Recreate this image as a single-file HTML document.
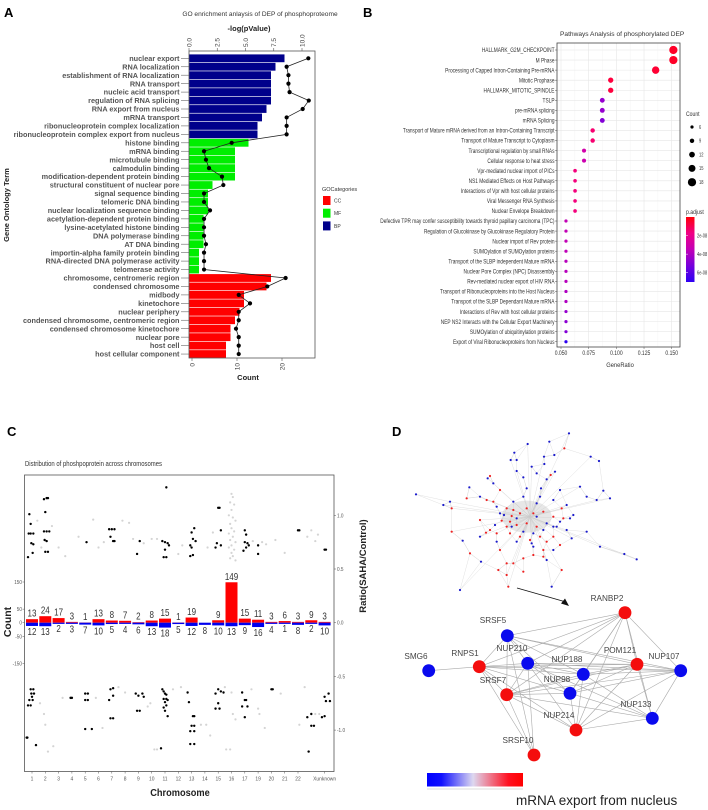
<!DOCTYPE html>
<html><head><meta charset="utf-8">
<style>
html,body{margin:0;padding:0;background:#fff;}
svg{display:block;font-family:"Liberation Sans",sans-serif;}
</style></head>
<body>
<svg id="fig" width="708" height="810" viewBox="0 0 708 810" xmlns="http://www.w3.org/2000/svg">
<rect width="708" height="810" fill="#fff"/>
<text x="4" y="17" font-size="13" font-weight="bold">A</text>
<text x="363" y="17" font-size="13" font-weight="bold">B</text>
<text x="7" y="436" font-size="13" font-weight="bold">C</text>
<text x="392" y="436" font-size="13" font-weight="bold">D</text>
<g id="pa"></g>
<g id="pb"></g>
<g id="pc"></g>
<g id="pd"></g>
</svg>
<script>
// ---------- Panel A data ----------
const goTerms = ["nuclear export","RNA localization","establishment of RNA localization","RNA transport","nucleic acid transport","regulation of RNA splicing","RNA export from nucleus","mRNA transport","ribonucleoprotein complex localization","ribonucleoprotein complex export from nucleus","histone binding","mRNA binding","microtubule binding","calmodulin binding","modification-dependent protein binding","structural constituent of nuclear pore","signal sequence binding","telomeric DNA binding","nuclear localization sequence binding","acetylation-dependent protein binding","lysine-acetylated histone binding","DNA polymerase binding","AT DNA binding","importin-alpha family protein binding","RNA-directed DNA polymerase activity","telomerase activity","chromosome, centromeric region","condensed chromosome","midbody","kinetochore","nuclear periphery","condensed chromosome, centromeric region","condensed chromosome kinetochore","nuclear pore","host cell","host cellular component"];
const goCat = ["BP","BP","BP","BP","BP","BP","BP","BP","BP","BP","MF","MF","MF","MF","MF","MF","MF","MF","MF","MF","MF","MF","MF","MF","MF","MF","CC","CC","CC","CC","CC","CC","CC","CC","CC","CC"];
const goCount = [21,19,18,18,18,18,17,16,15,15,13,10,10,10,10,5,4,4,4,3,3,3,3,2,2,2,18,17,12,12,11,10,9,9,8,8];
const goLogP = [10.56,8.64,8.8,8.8,8.9,10.6,10.06,8.64,8.64,8.64,3.78,1.33,1.5,1.77,2.92,3.04,1.33,1.33,1.86,1.33,1.33,1.33,1.5,1.33,1.33,1.33,8.55,6.93,4.4,5.4,4.4,4.4,4.16,4.4,4.4,4.4];
const countTicks = [0,10,20];
const logPTicks = ["0.0","2.5","5.0","7.5","10.0"];
const catNames = ["CC","MF","BP"];

// ---------- Panel B data ----------
const pwTerms = ["HALLMARK_G2M_CHECKPOINT","M Phase","Processing of Capped Intron-Containing Pre-mRNA","Mitotic Prophase","HALLMARK_MITOTIC_SPINDLE","TSLP","pre-mRNA splicing","mRNA Splicing","Transport of Mature mRNA derived from an Intron-Containing Transcript","Transport of Mature Transcript to Cytoplasm","Transcriptional regulation by small RNAs","Cellular response to heat stress","Vpr-mediated nuclear import of PICs","NS1 Mediated Effects on Host Pathways","Interactions of Vpr with host cellular proteins","Viral Messenger RNA Synthesis","Nuclear Envelope Breakdown","Defective TPR may confer susceptibility towards thyroid papillary carcinoma (TPC)","Regulation of Glucokinase by Glucokinase Regulatory Protein","Nuclear import of Rev protein","SUMOylation of SUMOylation proteins","Transport of the SLBP independent Mature mRNA","Nuclear Pore Complex (NPC) Disassembly","Rev-mediated nuclear export of HIV RNA","Transport of Ribonucleoproteins into the Host Nucleus","Transport of the SLBP Dependant Mature mRNA","Interactions of Rev with host cellular proteins","NEP NS2 Interacts with the Cellular Export Machinery","SUMOylation of ubiquitinylation proteins","Export of Viral Ribonucleoproteins from Nucleus"];
const pwRatio = [0.1515,0.1515,0.1355,0.0949,0.0949,0.0873,0.0873,0.0873,0.0786,0.0786,0.0708,0.0708,0.0627,0.0627,0.0627,0.0627,0.0627,0.0545,0.0545,0.0545,0.0545,0.0545,0.0545,0.0545,0.0545,0.0545,0.0545,0.0545,0.0545,0.0545];
const pwCount = [18,18,16,11,11,10,10,10,9,9,8,8,7,7,7,7,7,6,6,6,6,6,6,6,6,6,6,6,6,6];
const pwPadj = [1e-9,1e-9,2e-9,3e-9,3e-9,4.6e-8,4.6e-8,5e-8,1.2e-8,1.2e-8,3e-8,3.2e-8,1.5e-8,1.5e-8,1.5e-8,1.5e-8,1.5e-8,3.5e-8,3.5e-8,3.5e-8,3.6e-8,3.8e-8,3.8e-8,3.8e-8,4e-8,4e-8,4.6e-8,4.8e-8,5e-8,6.5e-8];
const ratioTicks = [0.05,0.075,0.1,0.125,0.15];
const ratioTickLabels = ["0.050","0.075","0.100","0.125","0.150"];
const sizeLegend = [6,9,12,15,18];
const padjLegend = [2e-8,4e-8,6e-8];
const padjLegendLabels = ["2e-08","4e-08","6e-08"];

// ---------- Panel C data ----------
const chromLabels = ["1","2","3","4","5","6","7","8","9","10","11","12","13","14","15","16","17","19","20","21","22","","Xunknown"];
const upCounts = [13,24,17,3,1,13,8,7,2,8,15,1,19,0,9,149,15,11,3,6,3,9,3];
const downCounts = [12,13,2,3,7,10,5,4,6,13,18,5,12,8,10,13,9,16,4,1,8,2,10];
const countAxisTicks = [150,50,0,-50,-150];
const ratioAxisTicks = [1.0,0.5,0.0,-0.5,-1.0];
const ratioAxisLabels = ["1.0","0.5","0.0","-0.5","-1.0"];
// [chromosome position (index + jitter), ratio]
const blackDots = [[-0.2,1.01],[-0.1,0.92],[-0.25,0.83],[-0.1,0.83],[0.1,0.83],[-0.05,0.74],[0.1,0.73],[0.05,0.65],[-0.3,0.61],[0.9,1.15],[1.1,1.16],[1.2,1.16],[1.0,1.03],[0.9,0.85],[1.1,0.85],[1.3,0.85],[0.95,0.77],[1.1,0.76],[1.0,0.66],[1.2,0.66],[4.1,0.75],[5.8,0.87],[6.0,0.87],[6.2,0.87],[5.9,0.8],[6.1,0.76],[6.2,0.76],[8.1,0.76],[7.9,0.64],[10.1,1.26],[9.8,0.76],[10.0,0.75],[10.2,0.74],[10.3,0.72],[10.0,0.68],[10.1,0.61],[9.9,0.61],[12.2,0.88],[12.0,0.84],[12.1,0.78],[12.3,0.76],[11.9,0.72],[12.0,0.7],[12.1,0.63],[11.9,0.62],[14.0,1.07],[14.1,1.07],[14.2,0.86],[13.9,0.74],[13.8,0.7],[14.2,0.72],[16.0,0.86],[16.1,0.82],[16.0,0.75],[16.2,0.74],[16.3,0.72],[16.1,0.7],[15.9,0.67],[17.0,0.72],[17.0,0.64],[20.0,0.86],[20.1,0.86],[22.0,0.68],[22.1,0.68],
[-0.1,-0.62],[0.1,-0.62],[-0.05,-0.66],[0.0,-0.69],[0.15,-0.66],[-0.2,-0.72],[0.05,-0.72],[-0.3,-0.77],[-0.1,-0.77],[-0.4,-1.07],[-0.35,-1.07],[0.3,-1.14],[2.9,-0.7],[3.0,-0.7],[4.0,-0.66],[4.2,-0.66],[4.0,-0.72],[4.2,-0.72],[4.0,-0.99],[4.5,-0.99],[5.8,-0.72],[5.9,-0.62],[6.1,-0.68],[5.9,-0.89],[6.1,-0.89],[6.1,-0.61],[7.8,-0.66],[8.0,-0.68],[7.9,-0.82],[8.1,-0.82],[8.3,-0.66],[8.4,-0.69],[9.8,-0.62],[9.9,-0.64],[10.0,-0.66],[10.1,-0.67],[9.9,-0.71],[10.1,-0.71],[10.2,-0.72],[10.0,-0.74],[10.1,-0.77],[9.9,-0.79],[10.0,-0.82],[10.2,-0.87],[9.7,-1.17],[11.7,-0.65],[11.8,-0.74],[12.1,-0.87],[12.2,-0.87],[12.0,-0.96],[12.2,-0.96],[11.9,-1.01],[12.2,-1.01],[11.9,-1.13],[12.2,-1.13],[13.8,-0.66],[14.0,-0.62],[14.2,-0.64],[14.4,-0.65],[14.0,-0.75],[13.8,-0.8],[14.1,-0.8],[15.8,-0.65],[16.0,-0.72],[16.1,-0.72],[15.8,-0.78],[16.2,-0.78],[16.0,-0.88],[18.0,-0.62],[18.1,-0.62],[20.7,-0.88],[21.0,-0.85],[21.0,-0.96],[21.2,-0.96],[20.8,-1.2],[22.0,-0.69],[22.3,-0.66],[22.1,-0.73],[22.4,-0.73],[21.8,-0.88],[22.0,-0.87]];
const grayDots = [[0.4,0.95],[0.7,0.7],[1.5,0.9],[2.0,0.7],[2.5,0.62],[3.5,0.8],[4.6,0.96],[5.0,0.7],[5.4,0.75],[6.8,0.95],[7.3,0.93],[7.6,0.78],[8.4,0.74],[9.0,0.78],[9.4,0.78],[11.0,0.64],[11.3,0.72],[13.2,0.7],[13.6,0.84],[15.0,1.2],[15.1,1.17],[14.9,1.12],[15.2,1.1],[15.0,1.05],[14.8,1.0],[15.1,0.98],[15.3,0.95],[14.9,0.92],[15.0,0.88],[15.2,0.85],[14.8,0.83],[15.1,0.8],[14.9,0.77],[15.3,0.75],[15.0,0.72],[14.8,0.7],[15.2,0.68],[15.0,0.65],[15.1,0.62],[14.9,0.6],[15.3,0.58],[16.6,0.76],[17.3,0.75],[17.6,0.73],[18.3,0.77],[19.0,0.65],[20.7,0.8],[21.0,0.86],[21.3,0.76],[21.5,0.82],
[0.6,-0.75],[0.9,-0.85],[1.0,-0.95],[1.2,-1.2],[1.6,-1.15],[2.3,-0.7],[4.8,-0.7],[5.3,-0.98],[6.5,-0.6],[7.0,-0.65],[8.7,-0.78],[8.9,-0.75],[9.2,-1.18],[9.4,-1.18],[10.6,-0.62],[11.2,-0.6],[12.7,-0.95],[13.1,-0.95],[13.4,-1.05],[14.5,-0.6],[15.0,-0.65],[15.1,-0.85],[15.3,-0.9],[14.6,-1.18],[14.9,-1.18],[16.5,-0.62],[17.0,-0.8],[17.1,-0.85],[17.5,-0.98],[18.7,-0.66],[20.5,-0.6],[20.1,-0.95],[21.3,-0.85],[21.6,-0.85]];

// ---------- Panel D data (layout coordinates of network) ----------
const cloudBlue = [[567,130],[508,155],[443,162],[403,188],[392,210],[410,210],[492,200],[523,195],[632,200],[657,213],[455,230],[493,222],[410,243],[470,250],[525,245],[323,265],[340,280],[430,262],[500,268],[440,295],[483,295],[540,300],[600,290],[670,302],[690,325],[620,320],[650,330],[108,313],[190,345],[268,292],[300,320],[350,350],[400,335],[430,320],[480,320],[520,330],[560,345],[580,375],[570,385],[540,395],[520,410],[500,400],[470,380],[410,385],[360,370],[345,405],[395,410],[430,425],[460,430],[490,420],[530,410],[560,420],[575,445],[620,425],[660,470],[733,492],[770,508],[520,480],[500,510],[460,470],[410,455],[350,455],[300,440],[248,452],[240,600],[303,515],[210,335],[515,590],[455,460],[372,375],[470,340]];
const cloudRed = [[553,175],[512,255],[330,258],[360,300],[260,325],[320,330],[340,335],[215,355],[380,355],[400,360],[420,370],[440,355],[460,370],[490,365],[520,380],[545,355],[550,385],[390,395],[380,410],[410,405],[440,400],[470,410],[330,420],[350,430],[390,430],[420,440],[450,450],[480,440],[500,455],[520,440],[540,465],[215,425],[270,490],[360,480],[380,520],[400,520],[430,505],[460,495],[490,500],[545,540],[355,540],[380,555],[430,545],[385,590],[490,480],[300,390],[318,428],[365,392],[395,378]];
const hubNames = ["RANBP2","SRSF5","SMG6","RNPS1","NUP210","NUP188","POM121","NUP107","SRSF7","NUP98","NUP133","NUP214","SRSF10"];
const hubColor = ["red","blue","blue","red","blue","blue","red","blue","red","blue","blue","red","red"];
const hubPos = [[625,612.7],[507.3,635.7],[428.7,670.7],[479.3,666.7],[527.7,663.3],[583.3,674.3],[637,664.3],[680.7,670.7],[506.7,694.7],[570,693.3],[652.3,718.3],[576,730],[534,755]];
const hubLabelPos = [[607,601],[493,623],[416,659],[465,656],[512,651],[567,662],[620,653],[664,659],[493,683],[557,682],[636,707],[559,718],[518,743]];
const hubEdges = [["RANBP2",["SRSF5","RNPS1","NUP210","NUP188","POM121","NUP107","SRSF7","NUP98","NUP214","NUP133"]],["SRSF5",["RNPS1","NUP210","POM121","NUP107","SRSF7","NUP188","NUP98","SRSF10"]],["SMG6",["RNPS1"]],["RNPS1",["NUP210","NUP188","POM121","NUP107","SRSF7","NUP98","SRSF10","NUP214"]],["NUP210",["NUP188","POM121","NUP107","SRSF7","NUP98","NUP214","NUP133","SRSF10"]],["NUP188",["POM121","NUP107","SRSF7","NUP98","NUP214","NUP133"]],["POM121",["NUP107","SRSF7","NUP98","NUP214","NUP133"]],["NUP107",["SRSF7","NUP98","NUP214","NUP133"]],["SRSF7",["NUP98","NUP214","NUP133","SRSF10"]],["NUP98",["NUP214","NUP133"]],["NUP214",["NUP133"]]];

const NS = "http://www.w3.org/2000/svg";
function mk(parent, tag, attrs, txt){
  const el = document.createElementNS(NS, tag);
  for (const k in attrs) el.setAttribute(k, attrs[k]);
  if (txt !== undefined) el.textContent = txt;
  parent.appendChild(el);
  return el;
}

// ================= Panel A =================
(function(){
  const g = document.getElementById('pa');
  const L=189, R=315, T=51, B=358;
  const xCount = c => 190 + c*4.5;
  const xLogP = v => 189 + v*11.3;
  const rowY = i => 58.3 + i*8.45;
  const catColor = {BP:"#00008b", MF:"#00ee00", CC:"#ff0000"};
  let el;
  el = mk(g,'text',{x:260,y:16,'font-size':6.6,'text-anchor':'middle',fill:'#333'},"GO enrichment anlaysis of DEP of phosphoproteome");
  
  
  el = mk(g,'text',{x:249,y:31,'font-size':7.5,'font-weight':'bold','text-anchor':'middle',fill:'#222'},"-log(pValue)");
  
  
  goTerms.forEach((t,i)=>{
    const y=rowY(i);
    const bar = mk(g,'rect',{x:L,y:y-3.9,width:xCount(goCount[i])-L,height:7.8,fill:catColor[goCat[i]]});
    
    
    const lab = mk(g,'text',{x:179.5,y:y+2.6,'font-size':7.3,'font-weight':'bold','text-anchor':'end',fill:'#555'},t);
    
    
    mk(g,'line',{x1:181,x2:189,y1:y,y2:y,stroke:'#666','stroke-width':0.6});
  });
  const pts = goLogP.map((v,i)=>xLogP(v)+','+rowY(i)).join(' ');
  el = mk(g,'polyline',{points:pts,fill:'none',stroke:'#222','stroke-width':0.8});
  
  
  goLogP.forEach((v,i)=>{
    const c = mk(g,'circle',{cx:xLogP(v),cy:rowY(i),r:2.1,fill:'#000'});
    
    
  });
  el = mk(g,'rect',{x:L,y:T,width:R-L,height:B-T,fill:'none',stroke:'#555','stroke-width':0.8});
  
  
  logPTicks.forEach(t=>{
    const x=xLogP(parseFloat(t));
    mk(g,'line',{x1:x,x2:x,y1:T-3,y2:T,stroke:'#555','stroke-width':0.6});
    const tl = mk(g,'text',{x:0,y:0,'font-size':6.5,fill:'#444',transform:`translate(${x+2.3},${T-4}) rotate(-90)`},t);
    
    
  });
  countTicks.forEach(t=>{
    const x=xCount(t)+2;
    mk(g,'line',{x1:x,x2:x,y1:B,y2:B+3,stroke:'#555','stroke-width':0.6});
    const tl = mk(g,'text',{x:0,y:0,'font-size':6.5,fill:'#444','text-anchor':'end',transform:`translate(${x+2.3},${B+5}) rotate(-90)`},String(t));
    
    
  });
  el = mk(g,'text',{x:248,y:380,'font-size':7.5,'font-weight':'bold','text-anchor':'middle',fill:'#222'},"Count");
  
  
  el = mk(g,'text',{x:0,y:0,'font-size':7.5,'font-weight':'bold','text-anchor':'middle',fill:'#222',transform:'translate(9,205) rotate(-90)'},"Gene Ontology Term");
  
  
  el = mk(g,'text',{x:322,y:191,'font-size':5.5,fill:'#333'},"GOCategories");
  
  
  catNames.forEach((c,i)=>{
    const y=196+i*12.7;
    const s = mk(g,'rect',{x:323,y:y,width:7.5,height:9,fill:catColor[c]});
    
    
    const t = mk(g,'text',{x:334,y:y+6.5,'font-size':5,fill:'#333'},c);
    
    
  });
})();

// ================= Panel B =================
(function(){
  const g = document.getElementById('pb');
  const L=557, R=680, T=43, B=347;
  const xB = v => 561 + (v-0.05)*1107;
  const yB = i => 50 + i*10.06;
  const rB = c => 1.6 + (c-6)*0.21;
  function col(p){
    const t=Math.min(1,p/6.5e-8);
    const r=Math.round(255-210*t*t), b=Math.round(255*Math.sqrt(t)*0.95+10*(1-t)), gg=0;
    return `rgb(${r},${gg},${b})`;
  }
  let el;
  el = mk(g,'text',{x:560,y:36,'font-size':6.6,fill:'#333'},"Pathways Analysis of phosphorylated DEP");
  
  
  mk(g,'rect',{x:L,y:T,width:R-L,height:B-T,fill:'#fff'});
  for (let i=0;i<ratioTicks.length;i++){
    const x=xB(ratioTicks[i]);
    mk(g,'line',{x1:x,x2:x,y1:T,y2:B,stroke:'#e6e6e6','stroke-width':0.6});
    if(i<ratioTicks.length-1){const xm=xB((ratioTicks[i]+ratioTicks[i+1])/2);mk(g,'line',{x1:xm,x2:xm,y1:T,y2:B,stroke:'#f2f2f2','stroke-width':0.4});}
  }
  pwTerms.forEach((t,i)=>{
    const y=yB(i);
    mk(g,'line',{x1:L,x2:R,y1:y,y2:y,stroke:'#e6e6e6','stroke-width':0.6});
    mk(g,'line',{x1:L-2,x2:L,y1:y,y2:y,stroke:'#555','stroke-width':0.5});
    const lab = mk(g,'text',{x:0,y:0,'font-size':6.3,'text-anchor':'end',fill:'#333',transform:`translate(${L-2.5},${y+2.2}) scale(0.76,1)`},t);
    
    
  });
  pwTerms.forEach((t,i)=>{
    const c = mk(g,'circle',{cx:xB(pwRatio[i]),cy:yB(i),r:rB(pwCount[i]),fill:col(pwPadj[i])});
    
    
  });
  el = mk(g,'rect',{x:L,y:T,width:R-L,height:B-T,fill:'none',stroke:'#444','stroke-width':0.8});
  
  
  ratioTicks.forEach((v,i)=>{
    const x=xB(v);
    mk(g,'line',{x1:x,x2:x,y1:B,y2:B+2,stroke:'#555','stroke-width':0.5});
    const tl = mk(g,'text',{x:0,y:0,'font-size':6.3,'text-anchor':'middle',fill:'#333',transform:`translate(${x},${B+8}) scale(0.8,1)`},ratioTickLabels[i]);
    
    
  });
  el = mk(g,'text',{x:0,y:0,'font-size':6.8,'text-anchor':'middle',fill:'#333',transform:'translate(620,367) scale(0.85,1)'},"GeneRatio");
  
  
  el = mk(g,'text',{x:0,y:0,'font-size':6,fill:'#333',transform:'translate(686,116) scale(0.85,1)'},"Count");
  
  
  sizeLegend.forEach((c,i)=>{
    const y=127+i*13.8;
    const d = mk(g,'circle',{cx:692,cy:y,r:rB(c),fill:'#000'});
    
    
    const t = mk(g,'text',{x:0,y:0,'font-size':5,fill:'#333',transform:`translate(699,${y+1.8}) scale(0.8,1)`},String(c));
    
    
  });
  el = mk(g,'text',{x:0,y:0,'font-size':6,fill:'#333',transform:'translate(686,214) scale(0.85,1)'},"p.adjust");
  
  
  const defs = mk(g,'defs',{});
  const lg = mk(defs,'linearGradient',{id:'padjGrad',x1:0,y1:0,x2:0,y2:1});
  [0,0.25,0.5,0.75,1].forEach(s=>{ mk(lg,'stop',{offset:s,'stop-color':col(s*7e-8)}); });
  el = mk(g,'rect',{x:686,y:217,width:8.5,height:65,fill:'url(#padjGrad)'});
  
  
  padjLegend.forEach((p,i)=>{
    const y=217+ (p/7e-8)*65;
    mk(g,'line',{x1:686,x2:688,y1:y,y2:y,stroke:'#fff','stroke-width':0.5});
    const t = mk(g,'text',{x:0,y:0,'font-size':5,fill:'#333',transform:`translate(697,${y+1.8}) scale(0.8,1)`},padjLegendLabels[i]);
    
    
  });
})();

// ================= Panel C =================
(function(){
  const g = document.getElementById('pc');
  const L=24.5, R=334, T=475, B=771.5;
  const xC = p => 32 + p*13.3;
  const yCount = v => 622.7 - v*0.2713;
  const yR = r => 622.7 - r*107.4;
  let el;
  el = mk(g,'text',{x:0,y:0,'font-size':7,fill:'#333',transform:'translate(25,466) scale(0.85,1)'},"Distribution of phoshpoprotein across chromosomes");
  
  
  grayDots.forEach(d=>{
    const c = mk(g,'circle',{cx:xC(d[0]),cy:yR(d[1]),r:1.1,fill:'#d4d4d4'});
    
    
  });
  blackDots.forEach(d=>{
    const c = mk(g,'circle',{cx:xC(d[0]),cy:yR(d[1]),r:1.2,fill:'#000'});
    
    
  });
  upCounts.forEach((v,i)=>{
    const x=xC(i);
    if(v>0){
      const b = mk(g,'rect',{x:x-6,y:yCount(v),width:12,height:yCount(0)-yCount(v),fill:'#ff0000'});
      
      
      const t = mk(g,'text',{x:0,y:0,'font-size':10,'text-anchor':'middle',fill:'#333',transform:`translate(${x},${yCount(v)-2.5}) scale(0.8,1)`},String(v));
      
      
    }
  });
  downCounts.forEach((v,i)=>{
    const x=xC(i);
    const b = mk(g,'rect',{x:x-6,y:yCount(0),width:12,height:Math.max(1.2,yCount(-v)-yCount(0)),fill:'#0000ee'});
    
    
    const t = mk(g,'text',{x:0,y:0,'font-size':10,'text-anchor':'middle',fill:'#333',transform:`translate(${x},${yCount(-v)+9}) scale(0.8,1)`},String(v));
    
    
  });
  el = mk(g,'rect',{x:L,y:T,width:R-L,height:B-T,fill:'none',stroke:'#555','stroke-width':0.8});
  
  
  countAxisTicks.forEach(v=>{
    const y=yCount(v);
    mk(g,'line',{x1:L-2,x2:L,y1:y,y2:y,stroke:'#555','stroke-width':0.5});
    const t = mk(g,'text',{x:0,y:0,'font-size':5.5,'text-anchor':'end',fill:'#555',transform:`translate(${L-2.5},${y+2}) scale(0.85,1)`},String(v));
    
    
  });
  ratioAxisTicks.forEach((v,i)=>{
    const y=yR(v);
    mk(g,'line',{x1:R,x2:R+2,y1:y,y2:y,stroke:'#555','stroke-width':0.5});
    const t = mk(g,'text',{x:0,y:0,'font-size':5.5,fill:'#555',transform:`translate(${R+3},${y+2}) scale(0.85,1)`},ratioAxisLabels[i]);
    
    
  });
  chromLabels.forEach((c,i)=>{
    if(!c) return;
    const x=xC(i);
    mk(g,'line',{x1:x,x2:x,y1:B,y2:B+2,stroke:'#555','stroke-width':0.5});
    const t = mk(g,'text',{x:0,y:0,'font-size':5.8,'text-anchor':'middle',fill:'#555',transform:`translate(${x},${B+9}) scale(0.85,1)`},c);
    
    
  });
  el = mk(g,'text',{x:0,y:0,'font-size':10.5,'font-weight':'bold','text-anchor':'middle',fill:'#222',transform:'translate(180,796) scale(0.88,1)'},"Chromosome");
  
  
  el = mk(g,'text',{x:0,y:0,'font-size':10.5,'font-weight':'bold','text-anchor':'middle',fill:'#222',transform:'translate(11,622) rotate(-90)'},"Count");
  
  
  el = mk(g,'text',{x:0,y:0,'font-size':9.5,'font-weight':'bold','text-anchor':'middle',fill:'#222',transform:'translate(366,566) rotate(-90)'},"Ratio(SAHA/Control)");
  
  
})();

// ================= Panel D =================
(function(){
  const g = document.getElementById('pd');
  const px = p => 380 + p[0]/3;
  const py = p => 390 + p[1]/3;
  const all = cloudBlue.concat(cloudRed);
  const eg = mk(g,'g',{stroke:'#c8c8c8','stroke-width':0.35,opacity:0.8});
  
  
  const hub=[450,380];
  all.forEach((p,i)=>{
    const d = all.map((q,j)=>[j,(q[0]-p[0])**2+(q[1]-p[1])**2]).filter(a=>a[0]!==i).sort((a,b)=>a[1]-b[1]);
    for(let k=0;k<2;k++){const q=all[d[k][0]]; mk(eg,'line',{x1:px(p),y1:py(p),x2:px(q),y2:py(q)});}
    if(i%2===0) mk(eg,'line',{x1:px(p),y1:py(p),x2:px(hub),y2:py(hub)});
  });
  mk(g,'ellipse',{cx:px([440,380]),cy:py([440,380]),rx:25,ry:16,fill:'#bbb',opacity:0.35});
  cloudBlue.forEach(p=>{
    const c = mk(g,'circle',{cx:px(p),cy:py(p),r:1.1,fill:'#1a1acc'});
    
    
  });
  cloudRed.forEach(p=>{
    const c = mk(g,'circle',{cx:px(p),cy:py(p),r:1.1,fill:'#ee2222'});
    
    
  });
  let el = mk(g,'line',{x1:517,y1:588,x2:566,y2:602,stroke:'#111','stroke-width':0.9});
  
  
  mk(g,'polygon',{points:'569,606 561,603.5 565,598.5',fill:'#111'});
  const idx = n => hubNames.indexOf(n);
  const he = mk(g,'g',{stroke:'#aaa','stroke-width':0.6});
  
  
  hubEdges.forEach(e=>{
    const a=hubPos[idx(e[0])];
    e[1].forEach(n=>{const b=hubPos[idx(n)]; mk(he,'line',{x1:a[0],y1:a[1],x2:b[0],y2:b[1]});});
  });
  hubNames.forEach((n,i)=>{
    const c = mk(g,'circle',{cx:hubPos[i][0],cy:hubPos[i][1],r:6.4,fill:hubColor[i]==='red'?'#f40d0d':'#0a0aee'});
    
    
    const t = mk(g,'text',{x:hubLabelPos[i][0],y:hubLabelPos[i][1],'font-size':8.2,'text-anchor':'middle',fill:'#444'},n);
    
    
  });
  const defs = mk(g,'defs',{});
  const lg = mk(defs,'linearGradient',{id:'netGrad',x1:0,y1:0,x2:1,y2:0});
  mk(lg,'stop',{offset:0,'stop-color':'#0000ff'});
  mk(lg,'stop',{offset:0.15,'stop-color':'#1010ff'});
  mk(lg,'stop',{offset:0.48,'stop-color':'#ddd8f0'});
  mk(lg,'stop',{offset:0.85,'stop-color':'#ff1020'});
  mk(lg,'stop',{offset:1,'stop-color':'#ff0000'});
  el = mk(g,'rect',{x:427,y:773,width:96,height:13.5,fill:'url(#netGrad)'});
  
  
  mk(g,'line',{x1:427,x2:523,y1:789,y2:789,stroke:'#bbb','stroke-width':0.5});
  el = mk(g,'text',{x:516,y:805,'font-size':13.5,fill:'#222'},"mRNA export from nucleus");
  
  
})();
</script>
</body></html>
